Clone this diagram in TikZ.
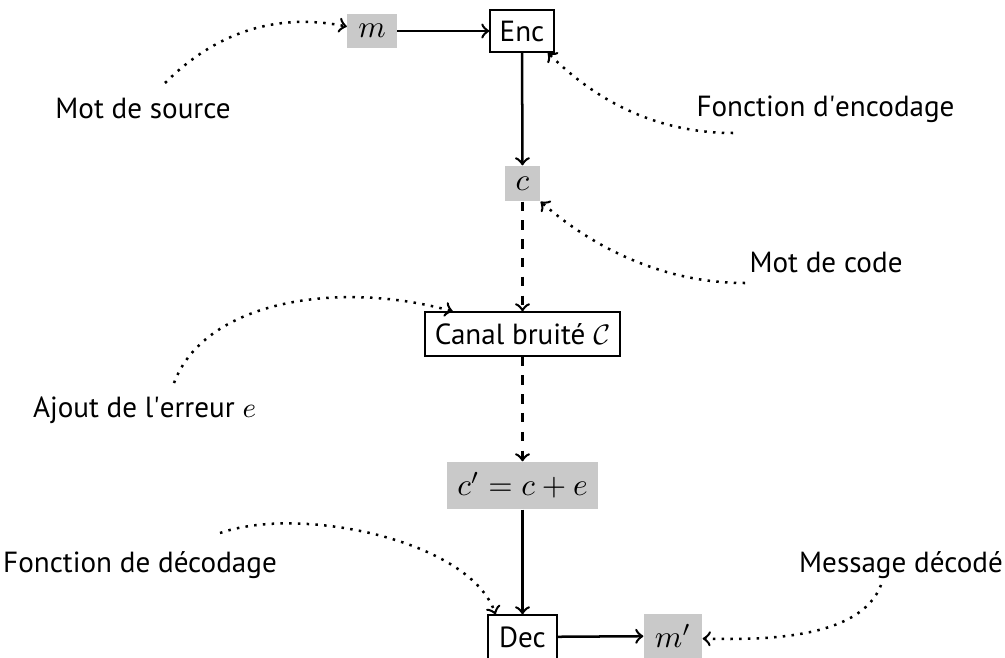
\documentclass[tikz,border=0pt]{standalone}
\usepackage{fontspec}
\setmainfont{PT Sans}
\begin{document}
\begin{tikzpicture}[x=0.3195pt,y=-0.3195pt,
  lbl/.style={font=\fontsize{9.3}{11}\selectfont, inner sep=0pt, anchor=base},
  boxnode/.style={draw, line width=0.4pt, inner sep=0pt, font=\fontsize{9.3}{11}\selectfont},
  val/.style={fill=black!21, inner sep=0pt},
  flow/.style={->, thick},
  note/.style={->, thick, dotted}]
\useasboundingbox (0,0) rectangle (1005,657);
% main chain
\node[val, minimum width=15.66pt, minimum height=10.86pt] (m) at (372,31) {$m$};
\node[boxnode, minimum width=20.45pt, minimum height=13.42pt] (enc) at (522,31) {Enc};
\node[val, minimum width=11.18pt, minimum height=11.18pt] (c) at (522.5,183.5) {$c$};
\node[boxnode, minimum width=62.30pt, minimum height=14.06pt] (canal) at (522.5,334) {Canal bruité $\mathcal{C}$};
\node[val, minimum width=48.24pt, minimum height=15.02pt] (cp) at (522.5,485.5) {$c' = c + e$};
\node[boxnode, minimum width=22.05pt, minimum height=14.06pt] (dec) at (522.5,637) {Dec};
\node[val, minimum width=18.53pt, minimum height=14.06pt] (mp) at (673,636) {$m'$};
% labels
\node[lbl] (lsrc) at (143,118) {Mot de source};
\node[lbl] (lenc) at (825.5,116) {Fonction d\textquotesingle encodage};
\node[lbl] (lcode) at (826,272) {Mot de code};
\node[lbl] (lerr) at (144.5,417) {Ajout de l\textquotesingle erreur $e$};
\node[lbl] (ldec) at (140,572) {Fonction de décodage};
\node[lbl] (lmsg) at (901,572) {Message décodé};
% curve starts
\coordinate (s1) at (165,83);
\coordinate (s2) at (733,133);
\coordinate (s3) at (745,283);
\coordinate (s4) at (174,383);
\coordinate (s5) at (220,533);
\coordinate (s6) at (881,585);
% flow connectors
\draw[flow] (m) -- (enc);
\draw[flow] (enc) -- (c);
\draw[flow, dashed] (c) -- (canal);
\draw[flow, dashed] (canal) -- (cp);
\draw[flow] (cp) -- (dec);
\draw[flow] (dec) -- (mp);
% annotation curves
\draw[note] (s1) .. controls (225,23) and (290,15) .. (m.170);
\draw[note] (s2) .. controls (650,133) and (590,95) .. (enc.-40);
\draw[note] (s3) .. controls (660,283) and (590,245) .. (c.south east);
\draw[note] (s4) .. controls (205,300) and (340,280) .. (canal.162);
\draw[note] (s5) .. controls (300,505) and (470,540) .. (dec.140);
\draw[note] (s6) .. controls (860,640) and (760,640) .. (mp.-5);
\end{tikzpicture}
\end{document}
